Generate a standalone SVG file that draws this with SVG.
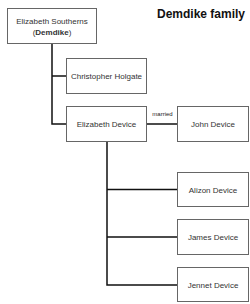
<svg xmlns="http://www.w3.org/2000/svg" width="250" height="304" viewBox="0 0 250 304">
<style>
.box{fill:#fff;stroke:#666;stroke-width:1}
.t{font-family:"Liberation Sans",Arial,sans-serif;font-size:8px;fill:#333;text-anchor:middle}
.c{stroke:#111;stroke-width:1.5;fill:none}
</style>
<rect width="250" height="304" fill="#fff"/>
<text x="201" y="17.5" font-family="Liberation Sans,Arial,sans-serif" font-size="12" font-weight="bold" text-anchor="middle" fill="#111">Demdike family</text>
<g id="connectors">
<path class="c" d="M52 44V124H66M52 76H66"/>
<path class="c" d="M147 124H177"/>
<path class="c" d="M107 142V285H177M107 189.5H177M107 237H177"/>
<text x="162.5" y="116" font-family="Liberation Sans,Arial,sans-serif" font-size="6" text-anchor="middle" fill="#222">married</text>
</g>
<g id="elizabeth-southerns">
<rect class="box" x="7.5" y="8.5" width="89" height="35"/>
<text class="t" x="52" y="24">Elizabeth Southerns</text>
<text class="t" x="52" y="35">(<tspan font-weight="bold">Demdike</tspan>)</text>
</g>
<g id="christopher-holgate">
<rect class="box" x="66.5" y="58.5" width="80" height="35"/>
<text class="t" x="106.5" y="79">Christopher Holgate</text>
</g>
<g id="elizabeth-device">
<rect class="box" x="66.5" y="106.5" width="80" height="35"/>
<text class="t" x="106.5" y="127">Elizabeth Device</text>
</g>
<g id="john-device">
<rect class="box" x="177.5" y="106.5" width="71" height="35"/>
<text class="t" x="213" y="127">John Device</text>
</g>
<g id="alizon-device">
<rect class="box" x="177.5" y="172.5" width="71" height="34"/>
<text class="t" x="213" y="192.5">Alizon Device</text>
</g>
<g id="james-device">
<rect class="box" x="177.5" y="219.5" width="71" height="35"/>
<text class="t" x="213" y="240">James Device</text>
</g>
<g id="jennet-device">
<rect class="box" x="177.5" y="267.5" width="71" height="34"/>
<text class="t" x="213" y="287.5">Jennet Device</text>
</g>
</svg>
